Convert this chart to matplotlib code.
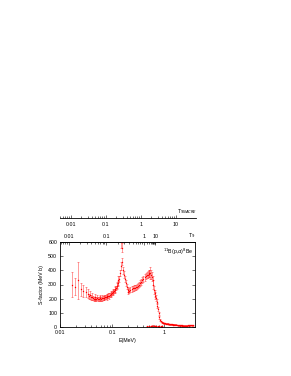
import numpy as np
import matplotlib
matplotlib.use("Agg")
from matplotlib import pyplot as plt
from matplotlib.ticker import FixedLocator, NullFormatter

plt.rcParams['font.family'] = ['Liberation Sans', 'DejaVu Sans']

# low energy data, sparse with big errors
e1 = [0.0170, 0.0195, 0.0220, 0.0250, 0.0280, 0.0310, 0.0345, 0.0380, 0.0420, 0.0470,
      0.0520, 0.0580, 0.0640, 0.0710, 0.0790, 0.0870, 0.0950, 0.1040, 0.1130, 0.1220, 0.1300]
s1 = [300, 285, 330, 265, 255, 245, 235, 225, 215, 212,
      208, 205, 205, 208, 212, 220, 232, 245, 262, 290, 330]
d1 = [85, 60, 130, 45, 40, 35, 30, 28, 25, 22,
      20, 20, 20, 20, 20, 20, 22, 22, 25, 25, 30]

# dense data around the minimum
e2 = [0.036, 0.039, 0.043, 0.045, 0.048, 0.050, 0.053, 0.056, 0.059, 0.062, 0.066, 0.069,
      0.073, 0.077, 0.081, 0.085, 0.090, 0.094, 0.099, 0.104, 0.109, 0.114, 0.119, 0.124,
      0.129, 0.134, 0.139]
s2 = [218, 210, 205, 200, 198, 196, 200, 198, 203, 200, 205, 207,
      210, 214, 218, 222, 227, 233, 240, 248, 255, 265, 275, 290,
      310, 340, 380]
d2 = [18, 17, 16, 15, 15, 15, 15, 15, 15, 15, 15, 15,
      15, 15, 15, 15, 15, 16, 16, 16, 16, 17, 17, 18,
      18, 20, 22]

# resonances at 0.148 and ~0.55 MeV
e3 = [0.145, 0.148, 0.152, 0.158, 0.164, 0.170, 0.176, 0.183, 0.190, 0.198, 0.206, 0.215,
      0.225, 0.236, 0.248, 0.260, 0.272, 0.285, 0.300, 0.315, 0.330, 0.345, 0.362, 0.380,
      0.400, 0.420, 0.440, 0.460, 0.480, 0.500, 0.520, 0.540, 0.560, 0.580, 0.600, 0.620,
      0.640, 0.660]
s3 = [430, 640, 560, 462, 400, 370, 340, 310, 285, 262, 250, 255,
      262, 268, 272, 275, 278, 280, 285, 290, 300, 310, 320, 330,
      340, 350, 358, 365, 370, 375, 378, 382, 370, 355, 330, 300,
      260, 220]
d3 = [30, 80, 30, 25, 25, 22, 20, 20, 20, 18, 18, 18,
      18, 18, 18, 18, 18, 18, 18, 18, 20, 20, 20, 20,
      22, 22, 22, 22, 25, 25, 25, 45, 30, 30, 30, 30,
      30, 25]

# fall-off and high energy tail
e4 = [0.680, 0.700, 0.720, 0.740, 0.760, 0.780, 0.800, 0.830, 0.860, 0.900, 0.930, 0.960,
      1.00, 1.04, 1.08, 1.12, 1.16, 1.20, 1.25, 1.30, 1.35, 1.40, 1.45, 1.50, 1.56, 1.62,
      1.68, 1.75, 1.82, 1.90, 1.98, 2.06, 2.15, 2.24, 2.34, 2.44, 2.55, 2.66, 2.78, 2.90,
      3.02, 3.15, 3.28, 3.42, 3.56]
s4 = [238, 205, 179, 150, 125, 97, 70, 50, 40, 33, 30, 28,
      26, 25, 24, 23, 22, 21, 20, 19, 18, 18, 17, 16, 16, 15,
      15, 14, 13, 13, 12, 11, 11, 10, 10, 9, 9, 9, 10, 11,
      12, 13, 14, 13, 12]
d4 = [25, 22, 20, 18, 15, 12, 10, 6, 5, 4, 4, 3,
      3, 3, 3, 3, 3, 3, 3, 3, 3, 3, 3, 3, 3, 3,
      3, 3, 3, 3, 3, 3, 3, 3, 3, 3, 3, 3, 3, 3,
      3, 3, 3, 3, 3]

# small component near the axis
e5 = [0.47, 0.51, 0.55, 0.59, 0.63, 0.67, 0.71, 0.76, 0.81, 0.86, 0.91]
s5 = [6, 7, 7, 8, 8, 7, 7, 6, 6, 5, 5]
d5 = [3, 3, 3, 3, 3, 3, 3, 3, 3, 3, 3]

# temperature axes
t9_major = [0.01, 0.1, 1, 10]
t9_labels = ['0.01', '0.1', '1', '10']
t9_minor = [m * 10.0**k for k in range(-3, 1) for m in range(2, 10)]
# effective energy vs T9 (log10 values)
t9_anchor = [-4, -3, -2, -1, 0, 1, 2, 4]
e_anchor = [-3.25, -2.54, -1.827, -1.115, -0.385, -0.173, 0.10, 1.0]

W, H = 291, 376
fig = plt.figure(figsize=(W / 100, H / 100), dpi=100)
ax = fig.add_axes([60 / W, 1 - 327 / H, 135 / W, 85 / H])

fs = 3.8
for e, s, d in [(e1, s1, d1), (e2, s2, d2), (e3, s3, d3), (e4, s4, d4), (e5, s5, d5)]:
    ax.errorbar(e, s, yerr=d, fmt='none', ecolor=(1, 0, 0, 0.55), elinewidth=0.5,
                capsize=1.0, capthick=0.5)
    ax.plot(e, s, 's', color='red', markersize=0.9, markeredgewidth=0)

ax.set_xscale('log')
ax.set_xlim(0.01, 3.9)
ax.set_ylim(0, 600)
ax.set_yticks(np.arange(0, 601, 100))
ax.set_xticks([0.01, 0.1, 1])
ax.set_xticklabels(['0.01', '0.1', '1'])
ax.tick_params(which='both', direction='in', top=False, right=True, labelsize=fs,
               width=0.4, pad=2)
ax.tick_params(which='major', length=2.5)
ax.tick_params(which='minor', length=1.4)
for sp in ax.spines.values():
    sp.set_linewidth(0.6)
ax.set_xlabel('E(MeV)', fontsize=fs, labelpad=2.5)
ax.set_ylabel('S-factor (MeV b)', fontsize=fs, labelpad=3)
ax.text(0.985, 0.88, r'$^{11}$B(p,$\alpha$)$^{8}$Be', transform=ax.transAxes,
        ha='right', va='center', fontsize=fs)


def e_to_t9(x):
    x = np.clip(np.asarray(x, dtype=float), 1e-12, None)
    return 10.0 ** np.interp(np.log10(x), e_anchor, t9_anchor)


def t9_to_e(t):
    t = np.clip(np.asarray(t, dtype=float), 1e-12, None)
    return 10.0 ** np.interp(np.log10(t), t9_anchor, e_anchor)


top = ax.secondary_xaxis('top', functions=(e_to_t9, t9_to_e))
top.xaxis.set_major_locator(FixedLocator(t9_major))
top.xaxis.set_minor_locator(FixedLocator(t9_minor))
top.set_xticklabels(t9_labels)
top.xaxis.set_minor_formatter(NullFormatter())
top.tick_params(which='both', direction='in', labelsize=fs, width=0.4, pad=2)
top.tick_params(which='major', length=2.5)
top.tick_params(which='minor', length=1.4)
top.spines['top'].set_linewidth(0.6)
ax.text(0.975, 1.075, r'T$_9$', transform=ax.transAxes, ha='center', va='center',
        fontsize=fs)

# floating NACRE temperature axis, Gamow energy of p + 11B
ax2 = fig.add_axes([60 / W, 1 - 217.5 / H, 136 / W, 0.01])
ax2.set_xscale('log')
ax2.set_xlim(0.01, 3.9)
ax2.set_ylim(0, 1)
for k in ['top', 'left', 'right']:
    ax2.spines[k].set_visible(False)
ax2.spines['bottom'].set_linewidth(0.6)
ax2.set_yticks([])
gam = lambda t: 0.347 * np.asarray(t, dtype=float) ** (2.0 / 3.0)
ax2.xaxis.set_major_locator(FixedLocator(gam(t9_major)))
ax2.xaxis.set_minor_locator(FixedLocator(gam(t9_minor)))
ax2.set_xticklabels(t9_labels)
ax2.xaxis.set_minor_formatter(NullFormatter())
ax2.tick_params(which='both', direction='in', labelsize=fs, width=0.4, pad=3.5)
ax2.tick_params(which='major', length=2.5)
ax2.tick_params(which='minor', length=1.4)
ax2.patch.set_alpha(0)
fig.text(187.5 / W, 1 - 211.5 / H, r'T$_{9NACRE}$', ha='center', va='center', fontsize=fs)

fig.savefig('out.png', dpi=100)
